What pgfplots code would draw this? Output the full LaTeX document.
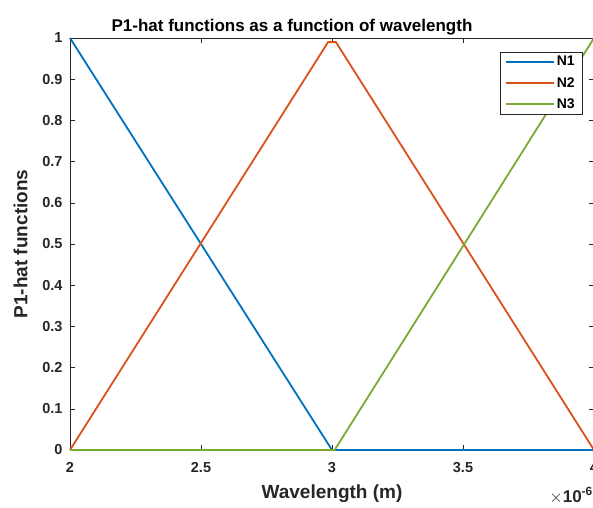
\documentclass[border=0pt]{standalone}
\usepackage{fontspec}
\setmainfont{Liberation Sans}
\usepackage{pgfplots}
\pgfplotsset{compat=1.18}

\definecolor{mblue}{rgb}{0,0.447,0.741}
\definecolor{morange}{rgb}{0.851,0.325,0.098}
\definecolor{mgreen}{rgb}{0.466,0.674,0.188}
\definecolor{maxis}{rgb}{0.15,0.15,0.15}

\begin{document}
\begin{tikzpicture}
\begin{axis}[
    scale only axis,
    width=524pt, height=412pt,
    xmin=2, xmax=4, ymin=0, ymax=1,
    xtick={2,2.5,3,3.5,4},
    ytick={0,0.1,0.2,0.3,0.4,0.5,0.6,0.7,0.8,0.9,1},
    xticklabels={2,2.5,3,3.5,4},
    yticklabel style={/pgf/number format/fixed, xshift=-4pt},
    xticklabel style={yshift=-9pt},
    /pgf/number format/assume math mode=true,
    tick label style={font=\bfseries\fontsize{14.5}{14.5}\selectfont, text=maxis},
    tick align=inside,
    major tick length=5pt,
    axis line style={maxis, line width=0.6pt},
    every tick/.style={maxis, line width=0.6pt},
    title={P1-hat functions as a function of wavelength},
    title style={font=\bfseries\fontsize{17}{17}\selectfont, yshift=-7pt, xshift=-40pt},
    xlabel={Wavelength (m)},
    ylabel={P1-hat functions},
    label style={font=\bfseries\fontsize{19}{19}\selectfont, text=maxis},
    xlabel style={yshift=-5pt},
    ylabel style={yshift=8pt},
    legend style={at={(1,1)}, anchor=north east, xshift=-12pt, yshift=-14pt,
        draw=maxis, line width=0.5pt, font=\bfseries\fontsize{14}{14}\selectfont,
        row sep=6pt, inner ysep=2pt, inner xsep=5pt},
    legend cell align=left,
    legend image code/.code={\draw[#1] (0pt,0pt) -- (48pt,0pt);},
    clip=false,
]
\addplot[mblue, line width=1.8pt] coordinates {(2,1) (3,0) (4,0)};
\addplot[morange, line width=1.8pt] coordinates {(2,0) (2.985,0.99) (3.015,0.99) (4,0)};
\addplot[mgreen, line width=1.8pt] coordinates {(2,0) (3.01,0) (4,1)};
\legend{N1,N2,N3}
\node[anchor=base east, font=\bfseries\fontsize{17}{17}\selectfont, text=maxis, inner sep=0pt]
    at ([yshift=-52pt,xshift=-1pt]rel axis cs:1,0) {$\times$10\textsuperscript{-6}};
\end{axis}
\pgfresetboundingbox
\path[use as bounding box] (-70pt,-57pt) rectangle (523pt,450pt);
\end{tikzpicture}
\end{document}
